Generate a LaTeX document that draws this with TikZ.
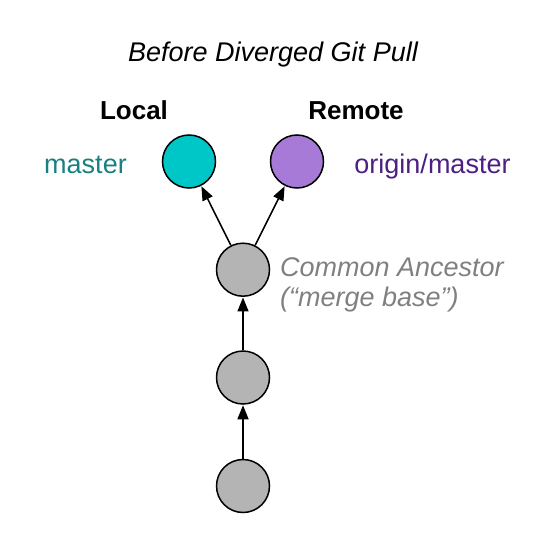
\documentclass[tikz,border=0pt]{standalone}
\usepackage{fontspec}
\setmainfont{Liberation Sans}
\usetikzlibrary{arrows.meta}
\definecolor{tealfill}{RGB}{0,199,199}
\definecolor{tealtext}{RGB}{24,128,126}
\definecolor{purplefill}{RGB}{166,122,214}
\definecolor{purpletext}{RGB}{76,32,130}
\definecolor{grayfill}{RGB}{180,180,180}
\definecolor{graytext}{RGB}{128,128,128}
\tikzset{
  commit/.style={circle,draw=black,line width=1.5pt,minimum size=53pt,inner sep=0pt},
  lbl/.style={font=\fontsize{27}{30}\selectfont,inner sep=0pt},
  link/.style={line width=1.5pt,-{Triangle[length=14pt,width=11pt]},shorten >=0.5pt},
}
\begin{document}
\begin{tikzpicture}[x=1pt,y=-1pt]
\useasboundingbox (0,0) rectangle (540,540);
\node[lbl,font=\fontsize{27}{30}\selectfont\itshape,anchor=base] (title) at (273,61.5) {Before Diverged Git Pull};
\node[lbl,font=\fontsize{26}{30}\selectfont\bfseries,anchor=base] (local) at (134,119.3) {Local};
\node[lbl,font=\fontsize{26}{30}\selectfont\bfseries,anchor=base] (remote) at (356,119.3) {Remote};
\node[lbl,text=tealtext,anchor=base] (mlbl) at (85.5,173.3) {master};
\node[lbl,text=purpletext,anchor=base] (olbl) at (432.5,173.3) {origin/master};
\node[commit,fill=tealfill] (loc) at (189,161.5) {};
\node[commit,fill=purplefill] (rem) at (297,161.5) {};
\node[commit,fill=grayfill] (c3) at (243,269.7) {};
\node[commit,fill=grayfill] (c2) at (243,377.5) {};
\node[commit,fill=grayfill] (c1) at (243,486) {};
\node[lbl,text=graytext,anchor=base west] (anc) at (280,276) {\itshape\begin{tabular}[t]{@{}l@{}}Common Ancestor\\(“merge base”)\end{tabular}};
\draw[link] (c1) -- (c2);
\draw[link] (c2) -- (c3);
\draw[link] (c3) -- (loc);
\draw[link] (c3) -- (rem);
\end{tikzpicture}
\end{document}
